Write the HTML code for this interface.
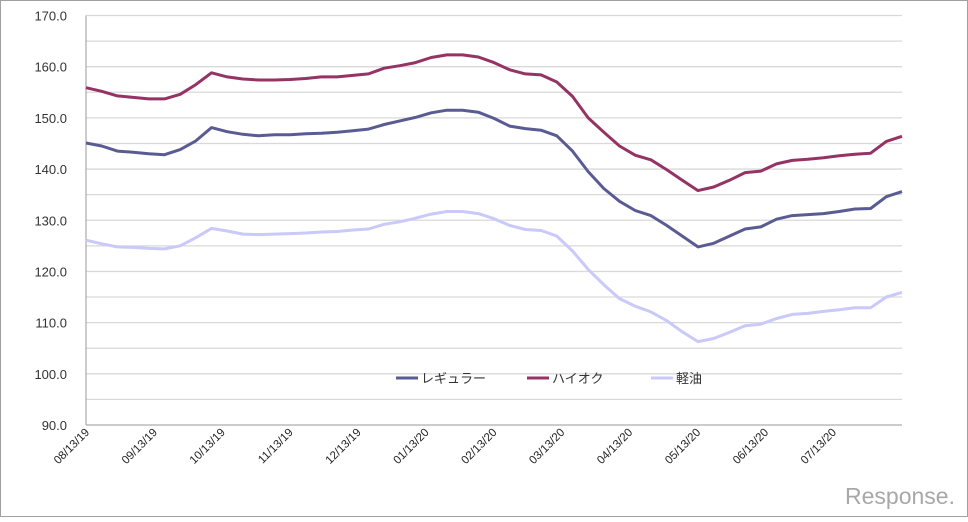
<!DOCTYPE html>
<html><head><meta charset="utf-8"><style>
html,body{margin:0;padding:0;background:#fff;}
svg text{font-family:"Liberation Sans","Noto Sans CJK JP",sans-serif;}
</style></head><body>
<svg id="chart" width="968" height="517" xmlns="http://www.w3.org/2000/svg">
<rect x="0.5" y="0.5" width="967" height="516" fill="#fff" stroke="#a0a0a0"/>
<g id="grid"></g><g id="yax"></g><g id="xax"></g><g id="series"></g>
<g>
<g><line x1="396" y1="378" x2="418" y2="378" stroke="#5b5b94" stroke-width="3"/><text x="421" y="383" font-size="13" fill="#333">レギュラー</text></g>
<g><line x1="527" y1="378" x2="549" y2="378" stroke="#943364" stroke-width="3"/><text x="552" y="383" font-size="13" fill="#333">ハイオク</text></g>
<g><line x1="651" y1="378" x2="673" y2="378" stroke="#c9c9fa" stroke-width="3"/><text x="676" y="383" font-size="13" fill="#333">軽油</text></g>
</g>
<text x="955" y="504" text-anchor="end" font-size="23" fill="#a8a8a8">Response.</text>
</svg>
<script>
const yTicks=[90,95,100,105,110,115,120,125,130,135,140,145,150,155,160,165,170];
const xLabels=["08/13/19","09/13/19","10/13/19","11/13/19","12/13/19","01/13/20","02/13/20","03/13/20","04/13/20","05/13/20","06/13/20","07/13/20"];
const regular=[145.1,144.5,143.5,143.3,143.0,142.8,143.8,145.5,148.1,147.3,146.8,146.5,146.7,146.7,146.9,147.0,147.2,147.5,147.8,148.7,149.4,150.1,151.0,151.5,151.5,151.1,149.9,148.4,147.9,147.6,146.5,143.5,139.5,136.2,133.7,131.9,130.9,129.0,126.9,124.8,125.5,126.9,128.3,128.7,130.2,130.9,131.1,131.3,131.7,132.2,132.3,134.6,135.6];
const highOctane=[155.9,155.2,154.3,154.0,153.7,153.7,154.6,156.5,158.8,158.0,157.6,157.4,157.4,157.5,157.7,158.0,158.0,158.3,158.6,159.7,160.2,160.8,161.8,162.3,162.3,161.9,160.8,159.4,158.6,158.4,157.0,154.2,150.0,147.2,144.5,142.7,141.8,139.9,137.8,135.8,136.5,137.8,139.3,139.6,141.0,141.7,141.9,142.2,142.6,142.9,143.1,145.4,146.4];
const diesel=[126.1,125.4,124.8,124.7,124.5,124.4,125.0,126.6,128.4,127.9,127.3,127.2,127.3,127.4,127.5,127.7,127.8,128.1,128.3,129.2,129.7,130.4,131.2,131.7,131.7,131.3,130.3,129.0,128.2,128.0,126.9,124.0,120.4,117.4,114.7,113.2,112.1,110.4,108.2,106.3,106.9,108.1,109.4,109.7,110.8,111.6,111.8,112.2,112.5,112.9,112.9,115.0,115.9];
const NS="http://www.w3.org/2000/svg";
const L=86,R=902,T=15.5,B=425,YMIN=90,YMAX=170;
const y=v=>B-(v-YMIN)/(YMAX-YMIN)*(B-T);
const x=i=>L+i*(R-L)/(regular.length-1);
const xl=i=>L+4+i*67.9;
function mk(tag,attrs,parent){const e=document.createElementNS(NS,tag);for(const k in attrs)e.setAttribute(k,attrs[k]);parent.appendChild(e);return e;}
const grid=document.getElementById('grid'),yax=document.getElementById('yax'),xax=document.getElementById('xax'),ser=document.getElementById('series');
yTicks.forEach(v=>{
 if(v>YMIN){const g=mk('line',{x1:L,x2:R,y1:y(v),y2:y(v),stroke:'#d9d9d9','stroke-width':1.3},grid);
 
 }
 if(v%10===0){const t=mk('text',{x:67,y:y(v)+5,'text-anchor':'end','font-size':13,fill:'#333'},yax);t.textContent=v.toFixed(1);
 
 }
});
const ya=mk('line',{x1:L,x2:L,y1:T,y2:B,stroke:'#999'},yax);


const xa=mk('line',{x1:L,x2:R,y1:B,y2:B,stroke:'#999'},xax);


xLabels.forEach((s,i)=>{const px=xl(i),py=433;
 const t=mk('text',{x:px,y:py,'text-anchor':'end','font-size':11.5,fill:'#222',transform:`rotate(-45 ${px} ${py})`},xax);t.textContent=s;
 
 });
function line(data,color,name){const p=mk('polyline',{points:data.map((v,i)=>x(i).toFixed(1)+','+y(v).toFixed(1)).join(' '),fill:'none',stroke:color,'stroke-width':3,'stroke-linejoin':'round'},ser);
 
 }
line(diesel,'#c9c9fa','series-diesel');
line(regular,'#5b5b94','series-regular');
line(highOctane,'#943364','series-high-octane');
</script>
</body></html>
